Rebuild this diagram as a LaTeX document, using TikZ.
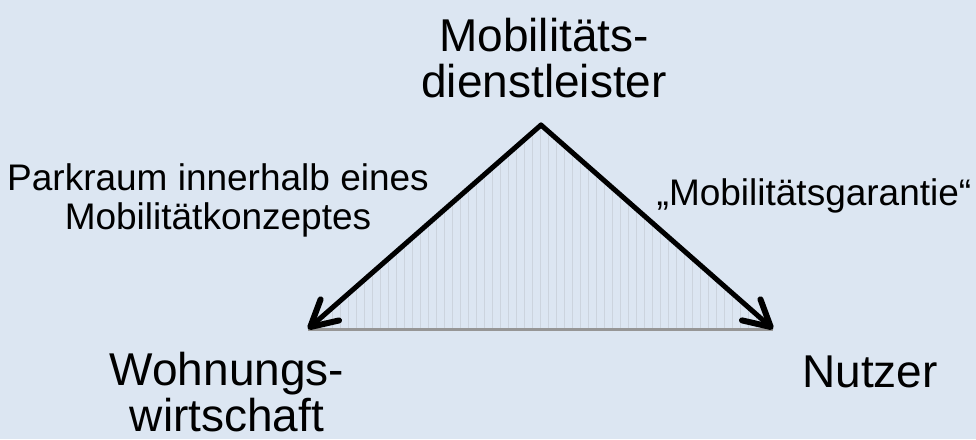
\documentclass[tikz,border=0pt]{standalone}
\usepackage{fontspec}
\setmainfont{Liberation Sans}
\usetikzlibrary{arrows.meta}
\definecolor{bgblue}{RGB}{220,230,242}
\definecolor{hatch}{RGB}{204,212,222}
\definecolor{basegray}{RGB}{150,150,150}
\tikzset{
  bigtext/.style={font=\fontsize{46}{46}\selectfont, align=center, inner sep=0pt, text=black},
  smalltext/.style={font=\fontsize{37}{39}\selectfont, align=center, inner sep=0pt, text=black},
  relarrow/.style={line width=5pt, -{Straight Barb[length=26pt,width=28pt,line width=6pt,round]}, line cap=round, line join=round},
}
\begin{document}
\begin{tikzpicture}[x=1pt,y=-1pt]
\fill[bgblue] (0,0) rectangle (976,439);
\useasboundingbox (0,0) rectangle (976,439);
\coordinate (apex) at (541,125);
\coordinate (L) at (308,329);
\coordinate (R) at (773,329);
% faint hatching inside the triangle
\begin{scope}
  \clip (apex) -- (L) -- (R) -- cycle;
  \foreach \x in {308,316,...,780} {\draw[hatch, line width=0.8pt] (\x,120) -- (\x,331);}
\end{scope}
\draw[basegray, line width=3pt] (L) -- (R);
\draw[relarrow] (apex) -- (L);
\draw[relarrow] (apex) -- (R);
\node[bigtext, anchor=base] (mds) at (544,97) {Mobilitäts-\\dienstleister};
\node[bigtext, anchor=base] (ww) at (227,431) {Wohnungs-\\wirtschaft};
\node[bigtext, anchor=base] (nu) at (870,387) {Nutzer};
\node[smalltext, anchor=base] (park) at (218,229) {Parkraum innerhalb eines\\Mobilitätkonzeptes};
\node[smalltext, anchor=base] (garant) at (814,205) {„Mobilitätsgarantie“};
\end{tikzpicture}
\end{document}
